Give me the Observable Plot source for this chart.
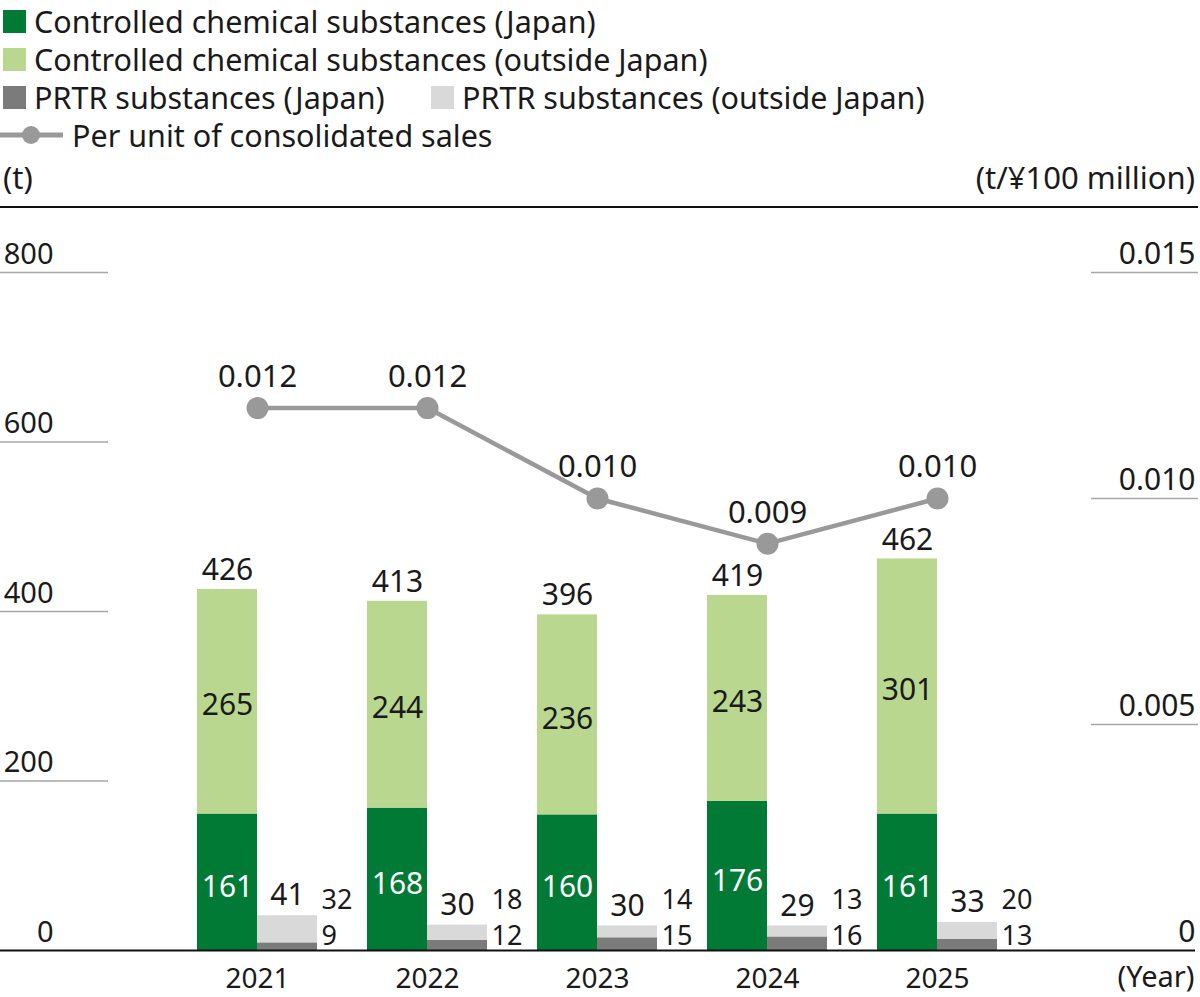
<!DOCTYPE html>
<html>
<head>
<meta charset="utf-8">
<script src="https://cdn.jsdelivr.net/npm/d3@7"></script>
<script src="https://cdn.jsdelivr.net/npm/@observablehq/plot@0.6"></script>
<style>
html,body{margin:0;padding:0;background:#fff;}
body{width:1200px;height:997px;position:relative;overflow:hidden;font-family:"Noto Sans",sans-serif;color:#1a1a1a;}
.row{position:absolute;display:flex;align-items:center;height:32px;font-size:30.5px;white-space:nowrap;line-height:32px;}
.row .t{display:inline-block;height:32px;line-height:32px;overflow:visible;}
.sw{display:inline-block;width:23px;height:23px;margin-right:8px;}
.unit{position:absolute;top:161px;height:32px;line-height:32px;font-size:31px;white-space:nowrap;}
#rule{position:absolute;top:206px;left:0;width:1198px;height:2px;background:#111;}
#chart{position:absolute;top:209px;left:0;}
</style>
</head>
<body>
<div id="legend"></div>
<div id="rule"></div>
<div id="chart"></div>
<script>
const years = [2021, 2022, 2023, 2024, 2025];
const ctrlJapan = [161, 168, 160, 176, 161];
const ctrlOutside = [265, 244, 236, 243, 301];
const ctrlTotal = [426, 413, 396, 419, 462];
const prtrJapan = [9, 12, 15, 16, 13];
const prtrOutside = [32, 18, 14, 13, 20];
const prtrTotal = [41, 30, 30, 29, 33];
const perUnit = [0.012, 0.012, 0.010, 0.009, 0.010];
const leftTicks = [0, 200, 400, 600, 800];
const rightTicks = [0, 0.005, 0.010, 0.015];
const seriesNames = [
  "Controlled chemical substances (Japan)",
  "Controlled chemical substances (outside Japan)",
  "PRTR substances (Japan)",
  "PRTR substances (outside Japan)"
];
const seriesColors = ["#007a35", "#b9d78f", "#7b7b7b", "#d9d9d9"];
const lineName = "Per unit of consolidated sales";
const lineColor = "#999999";
const leftUnit = "(t)";
const rightUnit = "(t/¥100 million)";
const xUnit = "(Year)";

// ---- legend (HTML) ----
const legend = document.getElementById("legend");
function addItem(left, top, name, color) {
  const r = document.createElement("div");
  r.className = "row";
  r.style.left = left + "px";
  r.style.top = top + "px";
  r.innerHTML = `<span class="sw" style="background:${color}"></span><span class="t">${name}</span>`;
  legend.appendChild(r);
}
addItem(3, 5, seriesNames[0], seriesColors[0]);
addItem(3, 43, seriesNames[1], seriesColors[1]);
addItem(3, 81, seriesNames[2], seriesColors[2]);
addItem(431, 81, seriesNames[3], seriesColors[3]);
{
  const r = document.createElement("div");
  r.className = "row";
  r.style.left = "0px";
  r.style.top = "119px";
  r.innerHTML = `<svg width="63" height="20" style="margin-right:9px"><line x1="0" x2="63" y1="10" y2="10" stroke="${lineColor}" stroke-width="5"/><circle cx="31" cy="10" r="9" fill="${lineColor}"/></svg><span class="t">${lineName}</span>`;
  legend.appendChild(r);
}
{
  const a = document.createElement("div");
  a.className = "unit"; a.style.left = "3px"; a.textContent = leftUnit;
  legend.appendChild(a);
  const b = document.createElement("div");
  b.className = "unit"; b.style.right = "5px"; b.textContent = rightUnit;
  legend.appendChild(b);
}

// ---- chart ----
const k = leftTicks[leftTicks.length - 1] / rightTicks[rightTicks.length - 1];
const step = 170;            // px per year
const bw = 60 / step;        // bar width in years
const W = 1200, H = 788, mL = 108, mR = 110, mT = 63, mB = 47;
const xDomain = [2021 - (257 - mL) / step, 2021 + (W - mR - 257) / step];

const rects = years.flatMap((year, i) => [
  {year, group: "ctrl", series: seriesNames[0], lo: 0, hi: ctrlJapan[i]},
  {year, group: "ctrl", series: seriesNames[1], lo: ctrlJapan[i], hi: ctrlJapan[i] + ctrlOutside[i]},
  {year, group: "prtr", series: seriesNames[2], lo: 0, hi: prtrJapan[i]},
  {year, group: "prtr", series: seriesNames[3], lo: prtrJapan[i], hi: prtrJapan[i] + prtrOutside[i]}
]);
const rows = years.map((year, i) => ({
  year, cj: ctrlJapan[i], co: ctrlOutside[i], ct: ctrlTotal[i],
  pj: prtrJapan[i], po: prtrOutside[i], pt: prtrTotal[i], v: perUnit[i]
}));

const fs = 30;
const chart = Plot.plot({
  width: W, height: H,
  marginLeft: mL, marginRight: mR, marginTop: mT, marginBottom: mB,
  x: {type: "linear", domain: xDomain, axis: null},
  y: {domain: [leftTicks[0], leftTicks[leftTicks.length - 1]], axis: null},
  color: {domain: seriesNames, range: seriesColors},
  style: {fontFamily: "Noto Sans", color: "#1a1a1a", overflow: "visible"},
  marks: [
    Plot.axisY(leftTicks.filter(d => d > 0), {anchor: "left", tickSize: mL, fill: "none", stroke: "#a6a6a6", strokeWidth: 1.5, label: null}),
    Plot.axisY(rightTicks.filter(d => d > 0).map(d => d * k), {anchor: "right", tickSize: 107, fill: "none", stroke: "#a6a6a6", strokeWidth: 1.5, label: null}),
    Plot.text(leftTicks, {y: d => d, text: d => String(d), frameAnchor: "left", textAnchor: "end", lineAnchor: "middle", dx: -55, dy: -18, fontSize: 29}),
    Plot.text(rightTicks, {y: d => d * k, text: d => d === 0 ? "0" : d.toFixed(3), frameAnchor: "right", textAnchor: "end", lineAnchor: "middle", dx: 105, dy: -18, fontSize: 30}),
    Plot.rect(rects, {
      x1: d => d.group === "ctrl" ? d.year - bw : d.year,
      x2: d => d.group === "ctrl" ? d.year : d.year + bw,
      y1: "lo", y2: "hi", fill: "series"
    }),
    Plot.ruleY([0], {stroke: "#111", strokeWidth: 2, insetLeft: -mL, insetRight: -105}),
    // controlled labels
    Plot.text(rows, {x: d => d.year - bw / 2, y: d => d.cj + d.co, text: d => String(d.ct), dy: -19, fontSize: fs, lineAnchor: "middle"}),
    Plot.text(rows, {x: d => d.year - bw / 2, y: d => d.cj + d.co / 2, text: d => String(d.co), dy: 4, fontSize: fs, lineAnchor: "middle"}),
    Plot.text(rows, {x: d => d.year - bw / 2, y: d => d.cj / 2, text: d => String(d.cj), dy: 5, fontSize: fs, fill: "white", lineAnchor: "middle"}),
    // PRTR labels
    Plot.text(rows, {x: d => d.year + bw / 2, y: d => d.pj + d.po, text: d => String(d.pt), dy: -20, fontSize: fs, lineAnchor: "middle"}),
    Plot.text(rows, {x: d => d.year + bw, y: 0, text: d => String(d.po), dx: 4, dy: -50, textAnchor: "start", fontSize: 27, lineAnchor: "middle"}),
    Plot.text(rows, {x: d => d.year + bw, y: 0, text: d => String(d.pj), dx: 4, dy: -14, textAnchor: "start", fontSize: 27, lineAnchor: "middle"}),
    // line
    Plot.line(rows, {x: "year", y: d => d.v * k, stroke: lineColor, strokeWidth: 4.5}),
    Plot.dot(rows, {x: "year", y: d => d.v * k, r: 11, fill: lineColor}),
    Plot.text(rows, {x: "year", y: d => d.v * k, text: d => d.v.toFixed(3), dy: -31, fontSize: 31, lineAnchor: "middle"}),
    // x labels
    Plot.text(years, {x: d => d, frameAnchor: "bottom", text: d => String(d), dy: 29, fontSize: 28, lineAnchor: "middle"}),
    Plot.text([xUnit], {frameAnchor: "bottom-right", text: d => d, textAnchor: "end", lineAnchor: "middle", dx: 104, dy: 27, fontSize: 29})
  ]
});
document.getElementById("chart").appendChild(chart);
</script>
</body>
</html>
